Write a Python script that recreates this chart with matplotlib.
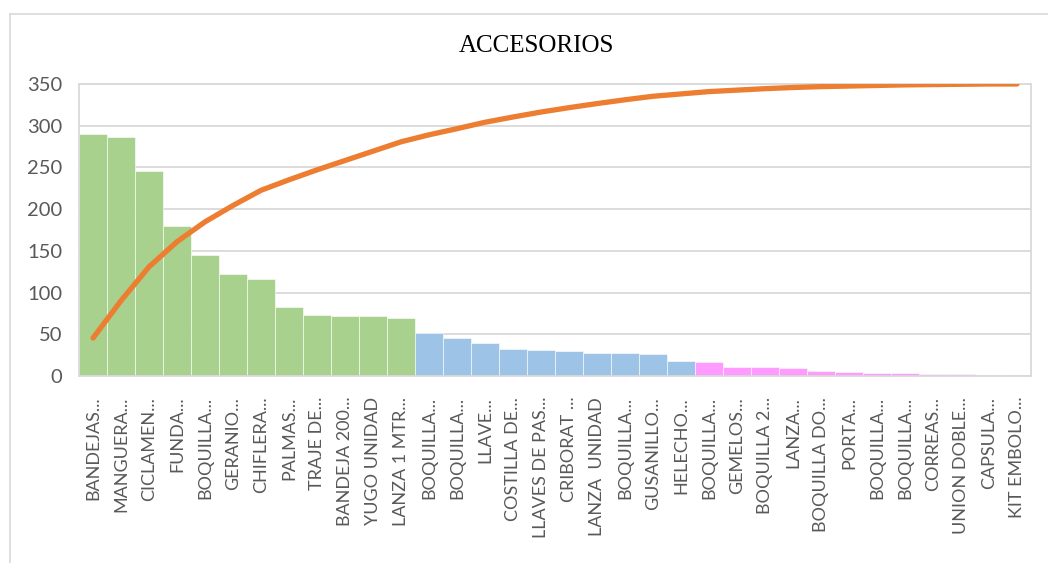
import matplotlib
matplotlib.use("Agg")
import matplotlib.pyplot as plt
from matplotlib.lines import Line2D

# productos (etiquetas tal como salen en el grafico)
productos = ["BANDEJAS...", "MANGUERA...", "CICLAMEN...", "FUNDA...", "BOQUILLA...",
             "GERANIO...", "CHIFLERA...", "PALMAS...", "TRAJE DE...", "BANDEJA 200...",
             "YUGO UNIDAD", "LANZA 1 MTR...", "BOQUILLA...", "BOQUILLA...", "LLAVE...",
             "COSTILLA DE...", "LLAVES DE PAS...", "CRIBORAT ...", "LANZA  UNIDAD", "BOQUILLA...",
             "GUSANILLO...", "HELECHO...", "BOQUILLA...", "GEMELOS...", "BOQUILLA 2...",
             "LANZA...", "BOQUILLA DO...", "PORTA...", "BOQUILLA...", "BOQUILLA...",
             "CORREAS...", "UNION DOBLE...", "CAPSULA...", "KIT EMBOLO..."]

# cantidades
cantidad = [290, 286, 246, 180, 145, 122, 116, 83, 73, 72, 72, 70,
            52, 46, 39, 32, 31, 30, 28, 28, 26, 18,
            17, 11, 11, 10, 6, 4.5, 3.5, 3.5, 2.5, 2,
            1, 0.4]

# clase ABC de cada producto
clase = ["A"] * 12 + ["B"] * 10 + ["C"] * 10 + ["B", "C"]

# porcentaje acumulado (linea, eje secundario oculto)
acumulado = [13.0, 25.8, 37.4, 46.0, 52.8, 58.4, 63.6, 67.2, 70.6, 73.8, 77.0, 80.2,
             82.6, 84.7, 86.9, 88.7, 90.4, 91.9, 93.3, 94.6, 95.8, 96.6,
             97.4, 97.9, 98.4, 98.8, 99.1, 99.3, 99.5, 99.7, 99.8, 99.9, 100.0, 100.0]

colores = {"A": "#a9d18e", "B": "#9dc3e6", "C": "#ff9bff"}
gris = "#595959"
linea_gris = "#d9d9d9"

fig = plt.figure(figsize=(10.48, 5.63), dpi=100)
ax = fig.add_axes([0.0754, 0.3321, 0.9084, 0.5187])

x = range(len(productos))
ax.bar(x, cantidad, width=1.0, color=[colores[c] for c in clase],
       edgecolor="white", linewidth=0.4, zorder=2)

ax.set_xlim(-0.5, len(productos) - 0.5)
ax.set_ylim(0, 350)
ax.set_yticks(range(0, 351, 50))
ax.grid(axis="y", color=linea_gris, linewidth=1.3, zorder=0)
for s in ax.spines.values():
    s.set_color(linea_gris)
    s.set_linewidth(1.3)
ax.tick_params(length=0)
ax.tick_params(axis="y", labelsize=14.5, labelcolor=gris, pad=12)
ax.set_xticks(list(x))
ax.set_xticklabels(productos, rotation=90, fontsize=13, color=gris, family="Lato",
                   ha="center", va="top")
ax.tick_params(axis="x", pad=15)
for t in ax.get_yticklabels():
    t.set_family("Lato")

# linea de pareto
ax2 = ax.twinx()
ax2.plot(list(x), acumulado, color="#ed7d31", linewidth=3.8,
         solid_capstyle="round", solid_joinstyle="round", zorder=3)
ax2.set_ylim(0, 100)
ax2.axis("off")

fig.text(0.512, 0.918, "ACCESORIOS", ha="center", va="center",
         family="Liberation Serif", fontsize=18, color="black")

# borde del area del grafico
fig.add_artist(Line2D([0.0095, 1.0], [0.975, 0.975], color=linea_gris, linewidth=1.2))
fig.add_artist(Line2D([0.0095, 0.0095], [0.0, 0.975], color=linea_gris, linewidth=1.2))

fig.savefig("out.png", dpi=100)
